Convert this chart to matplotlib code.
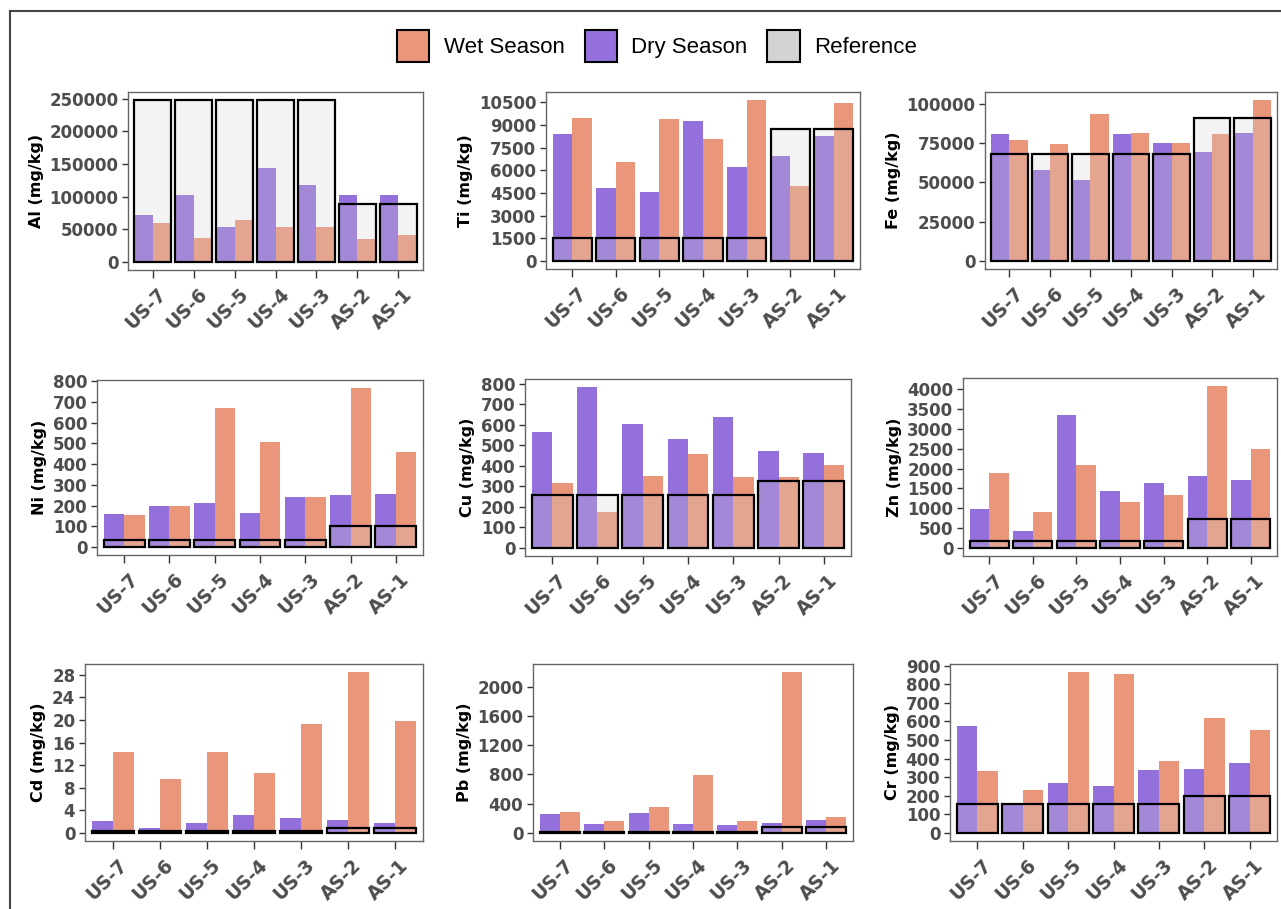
import matplotlib
matplotlib.use("Agg")
import matplotlib.pyplot as plt
from matplotlib.patches import Patch
from matplotlib.lines import Line2D
from matplotlib.colors import to_rgba
from matplotlib.transforms import ScaledTranslation
import numpy as np

# ---- data -------------------------------------------------------------
sites = ["US-7", "US-6", "US-5", "US-4", "US-3", "AS-2", "AS-1"]

al_dry = [71700, 102500, 53800, 144500, 118000, 102500, 102500]
al_wet = [58900, 37400, 64000, 53800, 53800, 34800, 41000]
al_ref = [248000] * 5 + [89000] * 2
al_ticks = [0, 50000, 100000, 150000, 200000, 250000]

ti_dry = [8400, 4850, 4570, 9290, 6240, 6950, 8270]
ti_wet = [9490, 6530, 9380, 8050, 10650, 4960, 10480]
ti_ref = [1500] * 5 + [8750] * 2
ti_ticks = [0, 1500, 3000, 4500, 6000, 7500, 9000, 10500]

fe_dry = [80500, 57900, 51500, 80500, 75200, 69300, 81100]
fe_wet = [77100, 74600, 93600, 81600, 75200, 80900, 102300]
fe_ref = [68200] * 5 + [90700] * 2
fe_ticks = [0, 25000, 50000, 75000, 100000]

ni_dry = [160, 199, 215, 166, 240, 250, 256]
ni_wet = [153, 199, 670, 509, 240, 768, 457]
ni_ref = [36] * 5 + [104] * 2
ni_ticks = [0, 100, 200, 300, 400, 500, 600, 700, 800]

cu_dry = [566, 784, 606, 531, 637, 473, 465]
cu_wet = [316, 177, 350, 456, 347, 347, 405]
cu_ref = [258] * 5 + [326] * 2
cu_ticks = [0, 100, 200, 300, 400, 500, 600, 700, 800]

zn_dry = [991, 420, 3345, 1437, 1639, 1815, 1706]
zn_wet = [1899, 899, 2092, 1168, 1328, 4084, 2504]
zn_ref = [176] * 5 + [723] * 2
zn_ticks = [0, 500, 1000, 1500, 2000, 2500, 3000, 3500, 4000]

cd_dry = [2.1, 0.95, 1.8, 3.1, 2.65, 2.3, 1.8]
cd_wet = [14.4, 9.55, 14.4, 10.7, 19.3, 28.5, 19.8]
cd_ref = [0.3] * 5 + [0.8] * 2
cd_ticks = [0, 4, 8, 12, 16, 20, 24, 28]

pb_dry = [255, 127, 277, 127, 109, 136, 182]
pb_wet = [282, 159, 359, 786, 159, 2200, 218]
pb_ref = [17] * 5 + [86] * 2
pb_ticks = [0, 400, 800, 1200, 1600, 2000]

cr_dry = [578, 155, 268, 252, 338, 345, 376]
cr_wet = [331, 231, 866, 853, 385, 617, 555]
cr_ref = [154] * 5 + [197] * 2
cr_ticks = [0, 100, 200, 300, 400, 500, 600, 700, 800, 900]

panels = [
    ("Al (mg/kg)", al_dry, al_wet, al_ref, al_ticks),
    ("Ti (mg/kg)", ti_dry, ti_wet, ti_ref, ti_ticks),
    ("Fe (mg/kg)", fe_dry, fe_wet, fe_ref, fe_ticks),
    ("Ni (mg/kg)", ni_dry, ni_wet, ni_ref, ni_ticks),
    ("Cu (mg/kg)", cu_dry, cu_wet, cu_ref, cu_ticks),
    ("Zn (mg/kg)", zn_dry, zn_wet, zn_ref, zn_ticks),
    ("Cd (mg/kg)", cd_dry, cd_wet, cd_ref, cd_ticks),
    ("Pb (mg/kg)", pb_dry, pb_wet, pb_ref, pb_ticks),
    ("Cr (mg/kg)", cr_dry, cr_wet, cr_ref, cr_ticks),
]

# ---- style ------------------------------------------------------------
WET = "#E9967A"
DRY = "#9370DB"
REF = "#D3D3D3"
TICK_COL = "#4D4D4D"

W, H = 1281, 909
fig = plt.figure(figsize=(W / 100, H / 100), dpi=100)
fig.patch.set_facecolor("white")

# panel frames in pixels: (left, top, right, bottom)
boxes = [
    (128, 92, 423, 270), (546, 92, 860, 269), (985, 92, 1277, 269),
    (97, 380, 423, 555), (525, 379, 851, 556), (963, 378, 1277, 556),
    (85, 664, 423, 841), (533, 664, 853, 841), (950, 664, 1277, 841),
]

x = np.arange(len(sites))
bw = 0.45
shift = ScaledTranslation(4 / 100, 0, fig.dpi_scale_trans)

for (label, dry, wet, ref, ticks), (l, t, r, b) in zip(panels, boxes):
    ax = fig.add_axes([l / W, 1 - b / H, (r - l) / W, (b - t) / H])
    ax.bar(x - bw / 2, dry, width=bw, color=DRY, linewidth=0, zorder=2)
    ax.bar(x + bw / 2, wet, width=bw, color=WET, linewidth=0, zorder=2)
    ax.bar(x, ref, width=2 * bw, facecolor=to_rgba(REF, 0.25),
           edgecolor="black", linewidth=1.6, zorder=3)

    top = max(max(dry), max(wet), max(ref))
    ax.set_ylim(-0.05 * top, 1.05 * top)
    ax.set_xlim(-0.6, len(sites) - 0.4)
    ax.set_yticks(ticks)
    ax.set_yticklabels([str(v) for v in ticks])
    ax.set_xticks(x)
    ax.set_xticklabels(sites, rotation=45, ha="right", va="top",
                       rotation_mode="anchor")
    ax.tick_params(axis="both", direction="out", length=4.5, width=1.0,
                   color="#333333", labelcolor=TICK_COL, labelsize=12, pad=2.5)
    ax.tick_params(axis="x", labelsize=13.5, pad=5, length=5.5)
    for lab in ax.get_xticklabels():
        lab.set_transform(lab.get_transform() + shift)
    for lab in ax.get_xticklabels() + ax.get_yticklabels():
        lab.set_fontweight("bold")
        lab.set_fontfamily("DejaVu Sans")
    ax.set_ylabel(label, fontsize=11.5, fontweight="bold",
                  fontfamily="DejaVu Sans", color="black", labelpad=4)
    for sp in ax.spines.values():
        sp.set_color("#666666")
        sp.set_linewidth(1.0)
    ax.set_facecolor("white")

# ---- legend -----------------------------------------------------------
handles = [
    Patch(facecolor=WET, edgecolor="black", linewidth=1.5, label="Wet Season"),
    Patch(facecolor=DRY, edgecolor="black", linewidth=1.5, label="Dry Season"),
    Patch(facecolor=REF, edgecolor="black", linewidth=1.5, label="Reference"),
]
fig.legend(handles=handles, loc="center", bbox_to_anchor=(657 / W, 1 - 46 / H),
           ncol=3, frameon=False,
           prop={"family": "Liberation Sans", "size": 16},
           handlelength=1.45, handleheight=1.8, handletextpad=0.65,
           columnspacing=0.9, borderaxespad=0)

# ---- outer frame (top and left edges) ---------------------------------
fig.add_artist(Line2D([9.5 / W, 1.0], [1 - 10.5 / H, 1 - 10.5 / H],
                      transform=fig.transFigure, color="#444444", linewidth=1.5))
fig.add_artist(Line2D([9.5 / W, 9.5 / W], [0.0, 1 - 10.5 / H],
                      transform=fig.transFigure, color="#444444", linewidth=1.5))

fig.savefig("out.png", dpi=100, facecolor="white")
